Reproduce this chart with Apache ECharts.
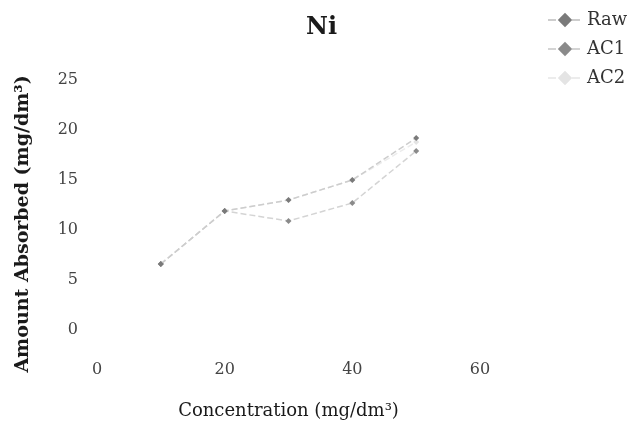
<!DOCTYPE html>
<html><head><meta charset="utf-8">
<script src="https://cdn.jsdelivr.net/npm/echarts@6/dist/echarts.min.js"></script>
<style>html,body{margin:0;padding:0;background:#fff}#c{width:633px;height:428px}</style>
</head><body><div id="c"></div>
<script>
const concentrations = [10, 20, 30, 40, 50];
const rawValues = [6.6, 11.9, 13.0, 15.0, 19.2];
const ac1Values = [6.6, 11.9, 10.9, 12.7, 17.9];
const ac2Values = [6.6, 11.9, 13.0, 15.0, 18.8];
const xTicks = [0, 20, 40, 60];
const yTicks = [0, 5, 10, 15, 20, 25];
const seriesNames = ['Raw', 'AC1', 'AC2'];

const F = 'DejaVu Serif';
function pts(vals){ return concentrations.map((x,i)=>[x, vals[i]]); }
const lineColors = ['#cdcdcd', '#d4d4d4', '#ececec'];
const markColors = ['#7a7a7a', '#8a8a8a', '#e4e4e4'];
const allVals = [rawValues, ac1Values, ac2Values];
const drawOrder = [2, 1, 0];

const chart = echarts.init(document.getElementById('c'), null, {renderer:'canvas'});
chart.setOption({
  animation: false,
  backgroundColor: '#fff',
  title: { text: 'Ni', left: 301, top: 11, textStyle: { fontFamily: F, fontSize: 24, fontWeight: 'bold', color: '#1a1a1a' } },
  legend: {
    orient: 'vertical', left: 542, top: 6, itemGap: 11, itemWidth: 34, itemHeight: 18,
    data: seriesNames,
    textStyle: { fontFamily: F, fontSize: 18, color: '#333' }
  },
  grid: { left: 97, right: 153, top: 80, bottom: 98, containLabel: false, outerBoundsMode: 'none' },
  xAxis: {
    type: 'value', min: xTicks[0], max: xTicks[xTicks.length-1], interval: 20,
    name: 'Concentration (mg/dm³)', nameLocation: 'middle', nameGap: 72, nameMoveOverlap: false,
    nameTextStyle: { fontFamily: F, fontSize: 18, color: '#1a1a1a' },
    axisLine: { show: false }, axisTick: { show: false }, splitLine: { show: false },
    axisLabel: { margin: 32, fontFamily: F, fontSize: 16, color: '#444' }
  },
  yAxis: {
    type: 'value', min: yTicks[0], max: yTicks[yTicks.length-1], interval: 5,
    name: 'Amount Absorbed (mg/dm³)', nameLocation: 'middle', nameGap: 64, nameMoveOverlap: false,
    nameTextStyle: { fontFamily: F, fontSize: 19, fontWeight: 'bold', color: '#1a1a1a', padding: [0, 38, 0, 0] },
    axisLine: { show: false }, axisTick: { show: false }, splitLine: { show: false },
    axisLabel: { margin: 19, fontFamily: F, fontSize: 16, color: '#444' }
  },
  series: drawOrder.map(i => ({
    name: seriesNames[i], type: 'line', data: pts(allVals[i]),
    symbol: 'diamond', symbolSize: 6, z: 2 + (2 - i),
    itemStyle: { color: markColors[i] },
    lineStyle: { color: lineColors[i], width: 1.5, type: 'dashed' }
  }))
});
</script></body></html>
